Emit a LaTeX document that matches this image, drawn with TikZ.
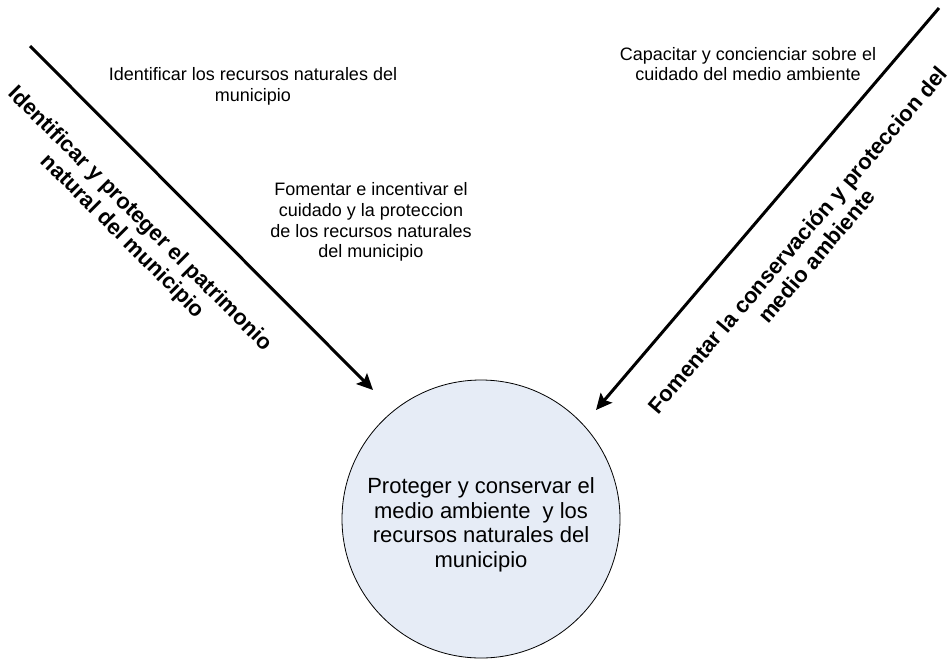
\documentclass[tikz,border=0pt]{standalone}
\usepackage{fontspec}
\setmainfont{Liberation Sans}
\usepackage{tikz}
\usetikzlibrary{arrows.meta}
\definecolor{fondo}{HTML}{E6ECF6}
\tikzset{
	%Define standard arrow tip
	>={Stealth[length=16pt,width=15pt,inset=3pt]},
	%Define style for the circle
	meta/.style={
		circle,
		draw=black, line width=0.8pt,
		fill=fondo,
		minimum size=278pt,
		inner sep=0pt},
	% Define style for the text in the circle
	metatexto/.style={
		inner sep=0pt,
		align=center,
		font=\fontsize{22}{24.5}\selectfont},
	% Define style for the small texts
	accion/.style={
		inner sep=0pt,
		align=center,
		font=\fontsize{18}{20.7}\selectfont},
	% Define style for the bold texts along the arrows
	linea/.style={
		inner sep=0pt,
		align=center,
		font=\fontsize{22}{25}\selectfont\bfseries},
	% Define arrow style
	pil/.style={
		->,
		line width=3pt}
}
\begin{document}
\begin{tikzpicture}[x=1pt,y=-1pt]
		\useasboundingbox (0,0) rectangle (948,659);
		%nodes
		\node[meta] (meta) at (481,519) {};
		\node[metatexto] (objetivo) at ([yshift=-6pt]meta.center)
		{Proteger y conservar el\\medio ambiente\ \ y los\\recursos naturales del\\municipio};
		\node[accion] (recursos) at (253,86)
		{Identificar los recursos naturales del\\municipio};
		\node[accion] (fomentar) at (371,222)
		{Fomentar e incentivar el\\cuidado y la proteccion\\de los recursos naturales\\del municipio};
		\node[accion] (capacitar) at (748,64)
		{Capacitar y concienciar sobre el\\cuidado del medio ambiente};
		% the bold texts follow the arrows
		\node[linea, rotate=-45] (patrimonio) at (131,228)
		{Identificar y proteger el patrimonio\\natural del municipio};
		\node[linea, rotate=49.5] (ambiente) at (807,248)
		{Fomentar la conservación y proteccion del\\medio ambiente};
		% ends of the arrows
		\coordinate (izq) at (30,46);
		\coordinate (izqfin) at (373,390);
		\coordinate (der) at (939,8);
		\coordinate (derfin) at (596,410);
		\draw[pil] (izq) -- (izqfin);
		\draw[pil] (der) -- (derfin);
\end{tikzpicture}
\end{document}
